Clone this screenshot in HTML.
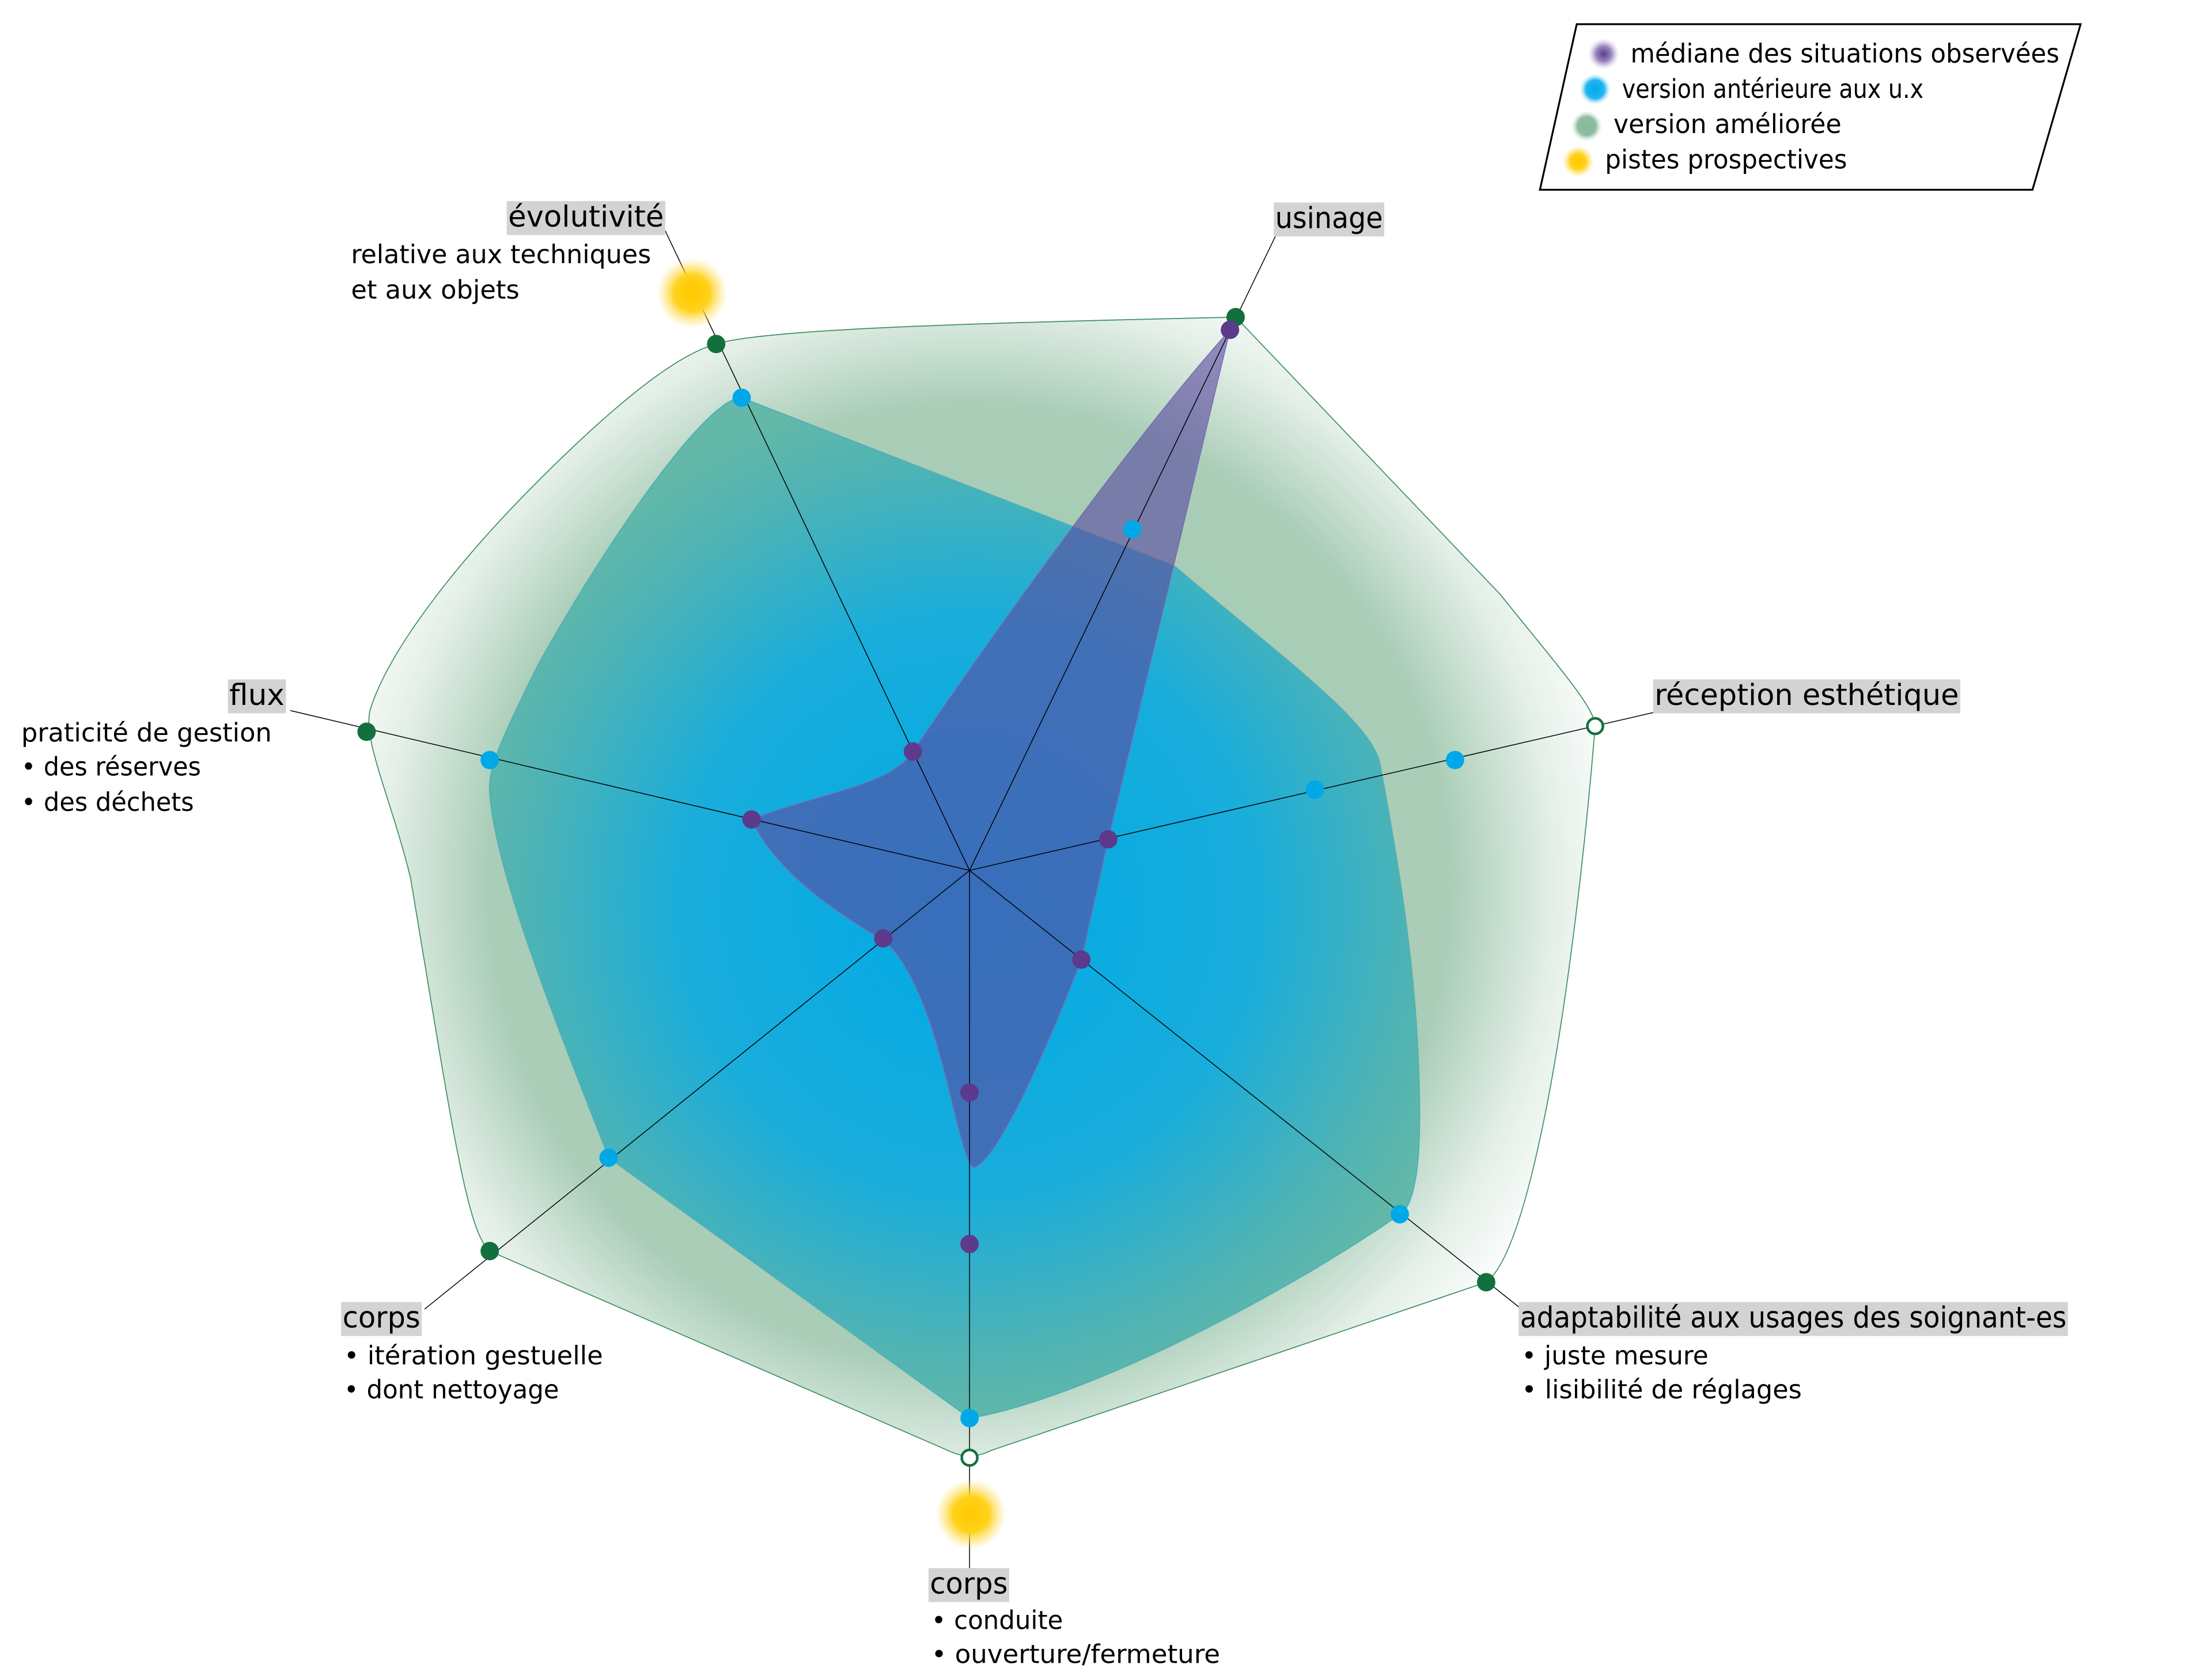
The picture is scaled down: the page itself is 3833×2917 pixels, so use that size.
<!DOCTYPE html>
<html><head><meta charset="utf-8"><style>
html,body{margin:0;padding:0;background:#fff;width:3833px;height:2917px;overflow:hidden}
svg{display:block}
text{font-family:"DejaVu Sans Condensed","DejaVu Sans","Liberation Sans",sans-serif;font-stretch:condensed;fill:#000}
</style></head><body>
<svg width="3833" height="2917" viewBox="0 0 1560 1187" xmlns="http://www.w3.org/2000/svg">
<defs>
<radialGradient id="gG" cx="685" cy="625" r="470" gradientUnits="userSpaceOnUse">
<stop offset="0" stop-color="#a6ccb4"/><stop offset="0.72" stop-color="#a9cdb7"/><stop offset="0.88" stop-color="#e4efe8"/><stop offset="1" stop-color="#ffffff"/></radialGradient>
<radialGradient id="gB" cx="685" cy="640" r="370" gradientUnits="userSpaceOnUse">
<stop offset="0" stop-color="#00a9e6"/><stop offset="0.55" stop-color="#19addb"/><stop offset="0.85" stop-color="#4fb3b4"/><stop offset="1" stop-color="#63b8a8"/></radialGradient>
<radialGradient id="gY"><stop offset="0" stop-color="#ffc800"/><stop offset="0.5" stop-color="#ffd21a"/><stop offset="1" stop-color="#ffe066" stop-opacity="0"/></radialGradient>
<radialGradient id="gP"><stop offset="0" stop-color="#5b3d8f"/><stop offset="0.5" stop-color="#9b87c0"/><stop offset="1" stop-color="#cfc5e3" stop-opacity="0"/></radialGradient>
<radialGradient id="gLB"><stop offset="0" stop-color="#00aaee"/><stop offset="0.6" stop-color="#22b6f0"/><stop offset="1" stop-color="#aee3f8" stop-opacity="0"/></radialGradient>
<radialGradient id="gLG"><stop offset="0" stop-color="#86b89c"/><stop offset="0.6" stop-color="#8fbda2"/><stop offset="1" stop-color="#d8eadf" stop-opacity="0"/></radialGradient>
</defs>

<path d="M873,224 L1060,420 C1100,470 1127,500 1127,513 C1120,600 1108,700 1095,770 C1080,850 1065,895 1050,906 L700,1025 C690,1030 680,1030 670,1025 L346,884 C330,870 320,800 290,620 C275,560 255,520 262,500 C275,460 320,400 380,340 C440,280 480,250 506,243 C540,232 700,228 873,224 Z" fill="url(#gG)" stroke="#3f8f62" stroke-width="0.7"/>
<path d="M524,281 L830,400 C900,460 970,510 975,540 C990,620 1003,700 1003,790 C1003,840 995,855 989,858 C900,920 760,990 685,1002 L430,818 C400,740 350,620 346,560 C345,545 350,530 380,470 C430,380 500,280 524,281 Z" fill="url(#gB)" stroke="#4fb0b8" stroke-width="0.8"/>
<path d="M869,233 L783,593 L764,678 C740,740 705,820 688,825 C676,820 665,700 625,665 C600,650 550,620 531,579 C580,560 630,555 645,531 C700,450 800,310 869,233 Z" fill="#5a4aa0" fill-opacity="0.62" stroke="#7a6ab0" stroke-width="0.6"/>

<g stroke="#000" stroke-width="0.6" fill="none">
<line x1="685" y1="615" x2="902" y2="165"/>
<line x1="685" y1="615" x2="1170" y2="503"/>
<line x1="685" y1="615" x2="1075" y2="925"/>
<line x1="685" y1="615" x2="685" y2="1108"/>
<line x1="685" y1="615" x2="300" y2="925"/>
<line x1="685" y1="615" x2="205" y2="502"/>
<line x1="685" y1="615" x2="470" y2="163"/>
</g>

<circle cx="489" cy="207" r="25" fill="url(#gY)"/>
<circle cx="686" cy="1070" r="25" fill="url(#gY)"/>

<g fill="#11703c">
<circle cx="873" cy="224" r="6.5"/><circle cx="1050" cy="906" r="6.5"/><circle cx="346" cy="884" r="6.5"/><circle cx="259" cy="517" r="6.5"/><circle cx="506" cy="243" r="6.5"/>
</g>
<circle cx="1127" cy="513" r="5.5" fill="#fff" stroke="#11703c" stroke-width="1.8"/>
<circle cx="685" cy="1030" r="5.5" fill="#fff" stroke="#11703c" stroke-width="1.8"/>
<g fill="#00a8e8">
<circle cx="800" cy="374" r="6.5"/><circle cx="1028" cy="537" r="6.5"/><circle cx="929" cy="558" r="6.5"/><circle cx="989" cy="858" r="6.5"/><circle cx="685" cy="1002" r="6.5"/><circle cx="430" cy="818" r="6.5"/><circle cx="346" cy="537" r="6.5"/><circle cx="524" cy="281" r="6.5"/>
</g>
<g fill="#5d3a8b">
<circle cx="869" cy="233" r="6.5"/><circle cx="783" cy="593" r="6.5"/><circle cx="764" cy="678" r="6.5"/><circle cx="685" cy="772" r="6.5"/><circle cx="685" cy="879" r="6.5"/><circle cx="624" cy="663" r="6.5"/><circle cx="531" cy="579" r="6.5"/><circle cx="645" cy="531" r="6.5"/>
</g>

<g font-size="20.5">
<rect x="900" y="143" width="78" height="24" fill="#d3d3d3"/><text x="901" y="161" textLength="76" lengthAdjust="spacingAndGlyphs">usinage</text>
<rect x="1168" y="480" width="217" height="24" fill="#d3d3d3"/><text x="1169" y="498" textLength="215" lengthAdjust="spacingAndGlyphs">réception esthétique</text>
<rect x="1073" y="920" width="388" height="24" fill="#d3d3d3"/><text x="1074" y="938" textLength="386" lengthAdjust="spacingAndGlyphs">adaptabilité aux usages des soignant-es</text>
<rect x="358" y="142" width="112" height="24" fill="#d3d3d3"/><text x="359" y="160" textLength="110" lengthAdjust="spacingAndGlyphs">évolutivité</text>
<rect x="161" y="480" width="41" height="24" fill="#d3d3d3"/><text x="162" y="498" textLength="39" lengthAdjust="spacingAndGlyphs">flux</text>
<rect x="241" y="920" width="57" height="24" fill="#d3d3d3"/><text x="242" y="938" textLength="55" lengthAdjust="spacingAndGlyphs">corps</text>
<rect x="656" y="1108" width="57" height="24" fill="#d3d3d3"/><text x="657" y="1126" textLength="55" lengthAdjust="spacingAndGlyphs">corps</text>
</g>
<g font-size="18">
<text x="248" y="186" textLength="212" lengthAdjust="spacingAndGlyphs">relative aux techniques</text>
<text x="248" y="211" textLength="119" lengthAdjust="spacingAndGlyphs">et aux objets</text>
<text x="15" y="524" textLength="177" lengthAdjust="spacingAndGlyphs">praticité de gestion</text>
<text x="15" y="548" textLength="127" lengthAdjust="spacingAndGlyphs">• des réserves</text>
<text x="15" y="573" textLength="122" lengthAdjust="spacingAndGlyphs">• des déchets</text>
<text x="243" y="964" textLength="183" lengthAdjust="spacingAndGlyphs">• itération gestuelle</text>
<text x="243" y="988" textLength="152" lengthAdjust="spacingAndGlyphs">• dont nettoyage</text>
<text x="1075" y="964" textLength="132" lengthAdjust="spacingAndGlyphs">• juste mesure</text>
<text x="1075" y="988" textLength="198" lengthAdjust="spacingAndGlyphs">• lisibilité de réglages</text>
<text x="658" y="1151" textLength="93" lengthAdjust="spacingAndGlyphs">• conduite</text>
<text x="658" y="1175" textLength="204" lengthAdjust="spacingAndGlyphs">• ouverture/fermeture</text>
</g>

<path d="M1114,17 L1470,17 L1436,134 L1088,134 Z" fill="#fff" stroke="#000" stroke-width="1.3"/>
<ellipse cx="1133" cy="38" rx="11" ry="11" fill="url(#gP)"/>
<ellipse cx="1127" cy="63" rx="11" ry="11" fill="url(#gLB)"/>
<ellipse cx="1121" cy="89" rx="11" ry="11" fill="url(#gLG)"/>
<ellipse cx="1115" cy="114" rx="11" ry="11" fill="url(#gY)"/>
<g font-size="18.5">
<text x="1152" y="44" textLength="303" lengthAdjust="spacingAndGlyphs">médiane des situations observées</text>
<text x="1146" y="69" textLength="213" lengthAdjust="spacingAndGlyphs">version antérieure aux u.x</text>
<text x="1140" y="94" textLength="161" lengthAdjust="spacingAndGlyphs">version améliorée</text>
<text x="1134" y="119" textLength="171" lengthAdjust="spacingAndGlyphs">pistes prospectives</text>
</g>
</svg>
</body></html>
